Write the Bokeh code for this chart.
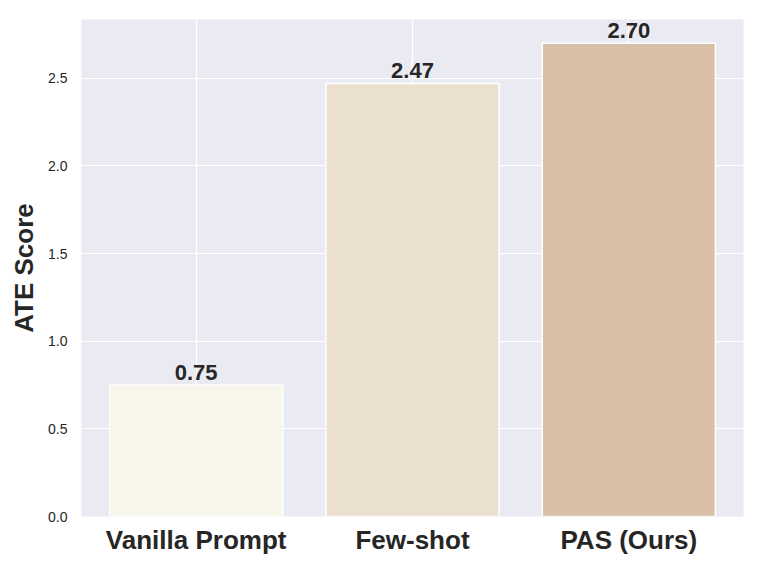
from bokeh.plotting import figure
from bokeh.models import ColumnDataSource, FixedTicker, Range1d
from bokeh.core.properties import value
from bokeh.embed import file_html
from bokeh.resources import INLINE

categories = ["Vanilla Prompt", "Few-shot", "PAS (Ours)"]
scores = [0.75, 2.47, 2.70]
colors = ["#F8F6EA", "#EBE0CF", "#D9BFA6"]
y_ticks = [0.0, 0.5, 1.0, 1.5, 2.0, 2.5]

xs = list(range(len(categories)))
labels = [f"{v:.2f}" for v in scores]
src = ColumnDataSource(dict(x=xs, top=scores, color=colors, label=labels))

p = figure(width=760, height=570, output_backend="svg", toolbar_location=None,
           x_range=Range1d(-0.53, 2.53), y_range=Range1d(0, 2.835),
           frame_width=662, frame_height=497,
           min_border_left=81, min_border_right=17, min_border_top=19, min_border_bottom=54)
p.background_fill_color = "#EAEAF2"
p.border_fill_color = "white"
p.outline_line_color = None

p.vbar(x="x", top="top", width=0.8, bottom=0, fill_color="color",
       line_color="white", line_width=1.5, source=src)
p.text(x="x", y="top", text="label", source=src, text_align="center",
       text_baseline="bottom", y_offset=-5, text_font=value("Liberation Sans"),
       text_font_style="bold", text_font_size="22px", text_color="#262626")

p.xaxis.ticker = FixedTicker(ticks=xs)
p.xaxis.major_label_overrides = {i: c for i, c in enumerate(categories)}
p.yaxis.ticker = FixedTicker(ticks=y_ticks)
p.yaxis.major_label_overrides = {t: f"{t:.1f}" for t in y_ticks}

for ax in (p.xaxis, p.yaxis):
    ax.axis_line_color = None
    ax.major_tick_line_color = None
    ax.minor_tick_line_color = None
    ax.major_tick_out = 0
    ax.major_tick_in = 0
    ax.major_label_text_font = "Liberation Sans"
    ax.major_label_text_color = "#262626"
    ax.axis_label_text_font = "Liberation Sans"
    ax.axis_label_text_color = "#262626"

p.xaxis.major_label_text_font_size = "26px"
p.xaxis.major_label_text_font_style = "bold"
p.xaxis.major_label_standoff = 8
p.yaxis.major_label_text_font_size = "14px"
p.yaxis.major_label_standoff = 14
p.yaxis.axis_label = "ATE Score"
p.yaxis.axis_label_text_font_size = "26px"
p.yaxis.axis_label_text_font_style = "bold"
p.yaxis.axis_label_standoff = 6

p.grid.grid_line_color = "white"
p.grid.grid_line_width = 1.2
p.xgrid.ticker = FixedTicker(ticks=xs)
p.ygrid.ticker = FixedTicker(ticks=y_ticks)
p.grid.level = "underlay"

open("out.html", "w").write(file_html(p, INLINE))
